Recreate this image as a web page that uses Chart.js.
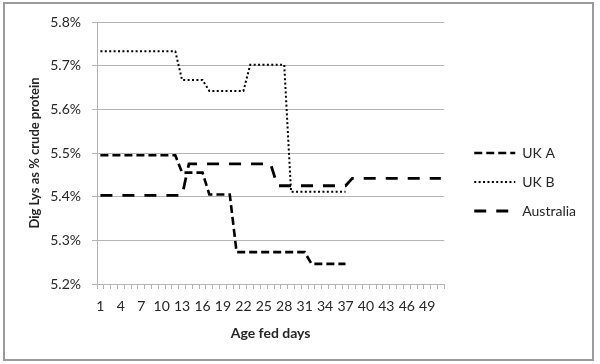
<!DOCTYPE html>
<html>
<head>
<meta charset="utf-8">
<script src="https://cdn.jsdelivr.net/npm/chart.js@4"></script>
<style>
  html, body { margin: 0; padding: 0; background: #fff; }
  #wrap { width: 600px; height: 364px; }
</style>
</head>
<body>
<div id="wrap"><canvas id="myChart" width="600" height="364"></canvas></div>
<script>
// age fed (days) along the x axis
const days = [1, 2, 3, 4, 5, 6, 7, 8, 9, 10, 11, 12, 13, 14, 15, 16, 17, 18, 19, 20,
  21, 22, 23, 24, 25, 26, 27, 28, 29, 30, 31, 32, 33, 34, 35, 36, 37, 38, 39, 40,
  41, 42, 43, 44, 45, 46, 47, 48, 49, 50, 51];

// dig lys as % crude protein
const ukA = [5.495, 5.495, 5.495, 5.495, 5.495, 5.495, 5.495, 5.495, 5.495, 5.495, 5.495, 5.495,
  5.455, 5.455, 5.455, 5.455,
  5.405, 5.405, 5.405, 5.405,
  5.273, 5.273, 5.273, 5.273, 5.273, 5.273, 5.273, 5.273, 5.273, 5.273, 5.273,
  5.246, 5.246, 5.246, 5.246, 5.246, 5.246,
  null, null, null, null, null, null, null, null, null, null, null, null, null, null];

const ukB = [5.733, 5.733, 5.733, 5.733, 5.733, 5.733, 5.733, 5.733, 5.733, 5.733, 5.733, 5.733,
  5.667, 5.667, 5.667, 5.667,
  5.642, 5.642, 5.642, 5.642, 5.642, 5.642,
  5.702, 5.702, 5.702, 5.702, 5.702, 5.702,
  5.411, 5.411, 5.411, 5.411, 5.411, 5.411, 5.411, 5.411, 5.411,
  null, null, null, null, null, null, null, null, null, null, null, null, null, null];

const australia = [5.403, 5.403, 5.403, 5.403, 5.403, 5.403, 5.403, 5.403, 5.403, 5.403, 5.403, 5.403, 5.403,
  5.475, 5.475, 5.475, 5.475, 5.475, 5.475, 5.475, 5.475, 5.475, 5.475, 5.475, 5.475, 5.475,
  5.425, 5.425, 5.425, 5.425, 5.425, 5.425, 5.425, 5.425, 5.425, 5.425, 5.425,
  5.442, 5.442, 5.442, 5.442, 5.442, 5.442, 5.442, 5.442, 5.442, 5.442, 5.442, 5.442, 5.442, 5.442];

const seriesNames = ['UK A', 'UK B', 'Australia'];
const yTicks = { min: 5.2, max: 5.8, step: 0.1 };

const textColor = '#262626';
const gridColor = '#b4b4b4';
Chart.defaults.font.family = 'Lato, "Open Sans", sans-serif';
Chart.defaults.color = textColor;

// white page and grey frame round the whole picture
const frame = {
  id: 'frame',
  beforeDraw(chart) {
    const c = chart.ctx;
    c.save();
    c.fillStyle = '#fff';
    c.fillRect(0, 0, chart.width, chart.height);
    c.strokeStyle = '#9a9a9a';
    c.lineWidth = 2;
    c.strokeRect(4, 3, 589, 357);
    c.restore();
  }
};

// legend samples should carry the dataset's dash and width
function legendLabels(chart) {
  const items = Chart.defaults.plugins.legend.labels.generateLabels(chart);
  items.forEach(item => {
    const ds = chart.data.datasets[item.datasetIndex];
    item.lineDash = ds.borderDash;
    item.lineWidth = ds.borderWidth;
    item.strokeStyle = ds.borderColor;
  });
  return items;
}

const ctx = document.getElementById('myChart').getContext('2d');
const myChart = new Chart(ctx, {
  type: 'line',
  data: {
    labels: days,
    datasets: [
      {
        label: seriesNames[0],
        data: ukA,
        borderColor: '#000',
        backgroundColor: '#000',
        borderWidth: 2.6,
        borderDash: [8, 4],
        pointRadius: 0,
        fill: false
      },
      {
        label: seriesNames[1],
        data: ukB,
        borderColor: '#000',
        backgroundColor: '#000',
        borderWidth: 2,
        borderDash: [2, 2.4],
        pointRadius: 0,
        fill: false
      },
      {
        label: seriesNames[2],
        data: australia,
        borderColor: '#000',
        backgroundColor: '#000',
        borderWidth: 2.8,
        borderDash: [12, 10],
        pointRadius: 0,
        fill: false
      }
    ]
  },
  options: {
    responsive: false,
    animation: false,
    layout: { padding: { left: 20, top: 22, bottom: 22, right: 14 } },
    plugins: {
      tooltip: { enabled: false },
      legend: {
        position: 'right',
        labels: {
          usePointStyle: true,
          pointStyle: 'line',
          pointStyleWidth: 41,
          padding: 15,
          color: textColor,
          font: { size: 14 },
          generateLabels: legendLabels
        }
      }
    },
    scales: {
      x: {
        offset: true,
        afterFit: s => { s.height = 58; },
        grid: { offset: true, drawOnChartArea: false, drawTicks: true, tickLength: 5, color: gridColor },
        border: { color: gridColor },
        ticks: {
          autoSkip: false,
          maxRotation: 0,
          minRotation: 0,
          padding: 9,
          font: { size: 14 },
          callback: function (val, i) { return i % 3 === 0 ? this.getLabelForValue(val) : ''; }
        },
        title: { display: true, text: 'Age fed days', font: { size: 14, weight: 'bold' }, padding: { top: 4, bottom: 0 } }
      },
      y: {
        min: yTicks.min,
        max: yTicks.max,
        afterFit: s => { s.width = 77; },
        grid: { color: gridColor, tickLength: 5 },
        border: { color: gridColor },
        ticks: {
          stepSize: yTicks.step,
          padding: 11,
          font: { size: 14 },
          callback: v => v.toFixed(1) + '%'
        },
        title: { display: true, text: 'Dig Lys as % crude protein', font: { size: 13, weight: 'bold' }, padding: { top: 7, bottom: 4 } }
      },
      // hidden right-hand axis, only keeps a gap between plot and legend
      gap: {
        position: 'right',
        display: false,
        afterFit: s => { s.width = 15; }
      }
    }
  },
  plugins: [frame]
});
</script>
</body>
</html>
